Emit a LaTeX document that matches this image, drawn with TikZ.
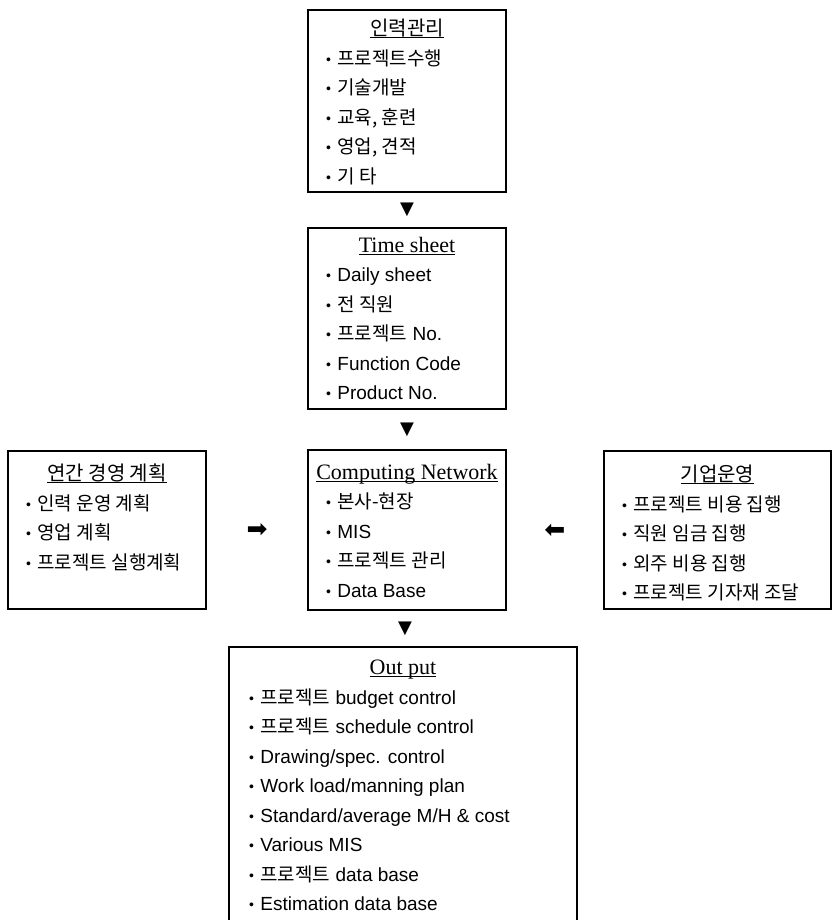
\documentclass[tikz,border=0pt]{standalone}
\usepackage{fontspec}
\setmainfont{Liberation Sans}
\newfontfamily\kr{Noto Sans CJK KR}
\newfontfamily\hs{Liberation Serif}
\newfontfamily\sym{DejaVu Sans}
\usetikzlibrary{positioning,calc}
\tikzstyle{box} = [rectangle, draw=black, line width=1.2pt, inner sep=0pt]
\tikzstyle{flowmark} = [inner sep=0pt, font=\sym\fontsize{18}{18}\selectfont]
\newcommand{\hd}[1]{\leavevmode\setbox0\hbox{#1}\rlap{\rule[-2.5pt]{\wd0}{0.8pt}}\box0}
\newcommand{\hdkr}[1]{{\centering\hd{\kr\fontsize{20}{20}\selectfont #1}\par}}
\newcommand{\hden}[1]{{\centering\hd{\hs\fontsize{22}{22}\selectfont #1}\par}}
\newcommand{\itm}[1]{\leavevmode\raisebox{1pt}{\fontsize{14}{14}\selectfont\textbullet}\hspace{6.5pt}{#1}\par}
\newcommand{\boxbody}[4]{\parbox[c][#2pt][t]{#1pt}{\fontsize{19}{29.5}\selectfont\vspace*{#3pt}#4}}

\begin{document}
\begin{tikzpicture}[x=1pt,y=-1pt]
\useasboundingbox (0,0) rectangle (832,920);
\node (P1) [box] at (407,101) {\boxbody{198}{182}{9}{\hdkr{인력관리}\leftskip=18pt
\itm{\kr 프로젝트수행}
\itm{\kr 기술개발}
\itm{\kr 교육, 훈련}
\itm{\kr 영업, 견적}
\itm{\kr 기 타}}};
\node (P2) [box] at (407,318.5) {\boxbody{198}{181}{9}{\hden{Time sheet}\leftskip=18pt
\itm{Daily sheet}
\itm{\kr 전 직원}
\itm{{\kr 프로젝트} No.}
\itm{Function Code}
\itm{Product No.}}};
\node (P3) [box] at (107,530) {\boxbody{198}{158}{13}{\hdkr{연간 경영 계획}\leftskip=18pt
\itm{\kr 인력 운영 계획}
\itm{\kr 영업 계획}
\itm{\kr 프로젝트 실행계획}}};
\node (P4) [box] at (407,530) {\boxbody{198}{160}{14}{\hden{Computing Network}\leftskip=18pt
\itm{\kr 본사-현장}
\itm{MIS}
\itm{\kr 프로젝트 관리}
\itm{Data Base}}};
\node (P5) [box] at (717.5,530) {\boxbody{227}{158}{14}{\hdkr{기업운영}\leftskip=18pt
\itm{\kr 프로젝트 비용 집행}
\itm{\kr 직원 임금 집행}
\itm{\kr 외주 비용 집행}
\itm{\kr 프로젝트 기자재 조달}}};
\node (P6) [box] at (403,785.5) {\boxbody{348}{277}{13}{\hden{Out put}\leftskip=20pt
\itm{{\kr 프로젝트} budget control}
\itm{{\kr 프로젝트} schedule control}
\itm{Drawing/spec. control}
\itm{Work load/manning plan}
\itm{Standard/average M/H \& cost}
\itm{Various MIS}
\itm{{\kr 프로젝트} data base}
\itm{Estimation data base}}};
\node (A1) [flowmark] at ($(P1.south)!0.5!(P2.north)$) {▼};
\node (A2) [flowmark] at ($(P2.south)!0.5!(P4.north)$) {▼};
\node (A3) [flowmark] at ($(P4.south)!0.5!(P6.north)$) {▼};
\node (A4) [flowmark, font=\sym\fontsize{25}{25}\selectfont] at ($(P3.east)!0.5!(P4.west)$) {➡};
\node (A5) [flowmark, font=\sym\fontsize{25}{25}\selectfont, rotate=180] at ($(P4.east)!0.5!(P5.west)$) {➡};
\end{tikzpicture}
\end{document}
